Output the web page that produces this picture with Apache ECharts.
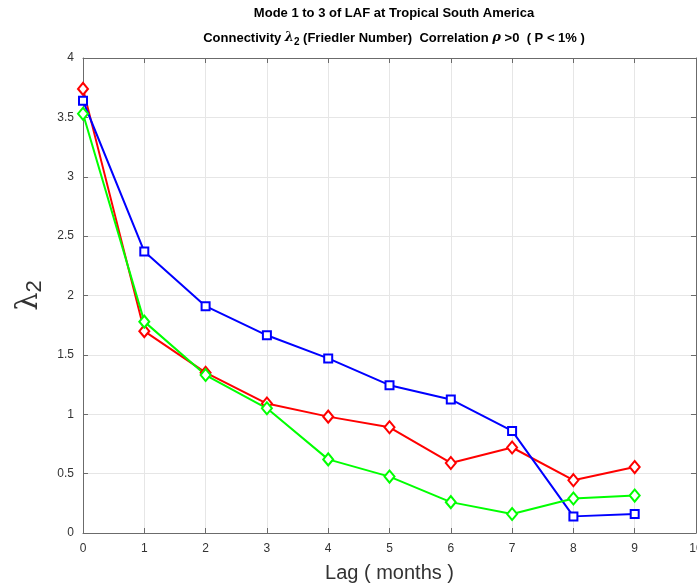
<!DOCTYPE html>
<html>
<head>
<meta charset="utf-8">
<script src="https://cdn.jsdelivr.net/npm/echarts@6/dist/echarts.min.js"></script>
<style>
  html, body { margin: 0; padding: 0; background: #fff; }
  #chart { width: 697px; height: 585px; }
</style>
</head>
<body>
<div id="chart"></div>
<script>
// lag in months
var lags = [0, 1, 2, 3, 4, 5, 6, 7, 8, 9];
// lambda_2 per mode
var mode1 = [3.74, 1.70, 1.35, 1.09, 0.98, 0.89, 0.59, 0.72, 0.445, 0.555];   // red
var mode2 = [3.64, 2.37, 1.91, 1.665, 1.47, 1.245, 1.125, 0.86, 0.14, 0.16];  // blue
var mode3 = [3.53, 1.78, 1.33, 1.05, 0.62, 0.475, 0.26, 0.16, 0.29, 0.315];   // green

function pairs(vals) {
    return lags.map(function (x, i) { return [x, vals[i]]; });
}

var chart = echarts.init(document.getElementById('chart'));
var axisCol = '#6b6b6b';
var labelCol = '#333';
var font = 'Liberation Sans';

var option = {
    animation: false,
    backgroundColor: '#fff',
    title: [
        {
            text: 'Mode 1 to 3 of LAF at Tropical South America',
            left: 389, top: 2, textAlign: 'center',
            textStyle: { fontFamily: font, fontSize: 13, fontWeight: 'bold', color: '#000' }
        },
        {
            text: '{b|Connectivity }{l|λ}{s|2}{b| (Friedler Number)  Correlation }{l|ρ}{b| >0  ( P < 1% )}',
            left: 389, top: 24, textAlign: 'center',
            textStyle: {
                rich: {
                    b: { fontFamily: font, fontSize: 13, fontWeight: 'bold', color: '#000', lineHeight: 18 },
                    l: { fontFamily: 'DejaVu Serif', fontStyle: 'italic', fontSize: 13, color: '#000', lineHeight: 18 },
                    s: { fontFamily: font, fontSize: 10, fontWeight: 'bold', color: '#000', lineHeight: 18, padding: [9, 0, 0, 0] }
                }
            }
        }
    ],
    grid: { left: 83, right: 1, top: 58, bottom: 52, containLabel: false, outerBoundsMode: 'none' },
    xAxis: [
        {
            type: 'value', min: 0, max: 10, interval: 1,
            name: 'Lag ( months )', nameLocation: 'middle', nameGap: 30,
            nameTextStyle: { fontFamily: font, fontSize: 20, color: labelCol },
            axisLine: { show: true, onZero: false, lineStyle: { color: axisCol, width: 1 } },
            axisTick: { show: true, inside: true, length: 5, lineStyle: { color: axisCol } },
            axisLabel: { fontFamily: font, fontSize: 12, color: labelCol, margin: 10 },
            splitLine: { show: true, lineStyle: { color: '#e6e6e6' } }
        },
        {
            type: 'value', min: 0, max: 10, interval: 1, position: 'top',
            axisLine: { show: true, onZero: false, lineStyle: { color: axisCol, width: 1 } },
            axisTick: { show: true, inside: true, length: 5, lineStyle: { color: axisCol } },
            axisLabel: { show: false },
            splitLine: { show: false }
        }
    ],
    yAxis: [
        {
            type: 'value', min: 0, max: 4, interval: 0.5,
            name: '{l|λ}{s|2}', nameLocation: 'middle', nameGap: 18, nameRotate: 90,
            nameTextStyle: {
                rich: {
                    l: { fontFamily: 'DejaVu Serif', fontSize: 29, color: labelCol, lineHeight: 34 },
                    s: { fontFamily: font, fontSize: 22, color: labelCol, lineHeight: 34, padding: [12, 0, 0, 0] }
                }
            },
            axisLine: { show: true, onZero: false, lineStyle: { color: axisCol, width: 1 } },
            axisTick: { show: true, inside: true, length: 5, lineStyle: { color: axisCol } },
            axisLabel: { fontFamily: font, fontSize: 12, color: labelCol, margin: 9 },
            splitLine: { show: true, lineStyle: { color: '#e6e6e6' } }
        },
        {
            type: 'value', min: 0, max: 4, interval: 0.5, position: 'right',
            axisLine: { show: true, onZero: false, lineStyle: { color: axisCol, width: 1 } },
            axisTick: { show: true, inside: true, length: 5, lineStyle: { color: axisCol } },
            axisLabel: { show: false },
            splitLine: { show: false }
        }
    ],
    series: [
        {
            name: 'Mode 1', type: 'line', data: pairs(mode1),
            symbol: 'emptyDiamond', symbolSize: [10, 12],
            lineStyle: { color: '#ff0000', width: 2 },
            itemStyle: { color: '#ff0000', borderWidth: 2 }
        },
        {
            name: 'Mode 2', type: 'line', data: pairs(mode2),
            symbol: 'emptyRect', symbolSize: 8,
            lineStyle: { color: '#0000ff', width: 2 },
            itemStyle: { color: '#0000ff', borderWidth: 2 }
        },
        {
            name: 'Mode 3', type: 'line', data: pairs(mode3),
            symbol: 'emptyDiamond', symbolSize: [10, 12],
            lineStyle: { color: '#00ff00', width: 2 },
            itemStyle: { color: '#00ff00', borderWidth: 2 }
        }
    ]
};
chart.setOption(option);
</script>
</body>
</html>
